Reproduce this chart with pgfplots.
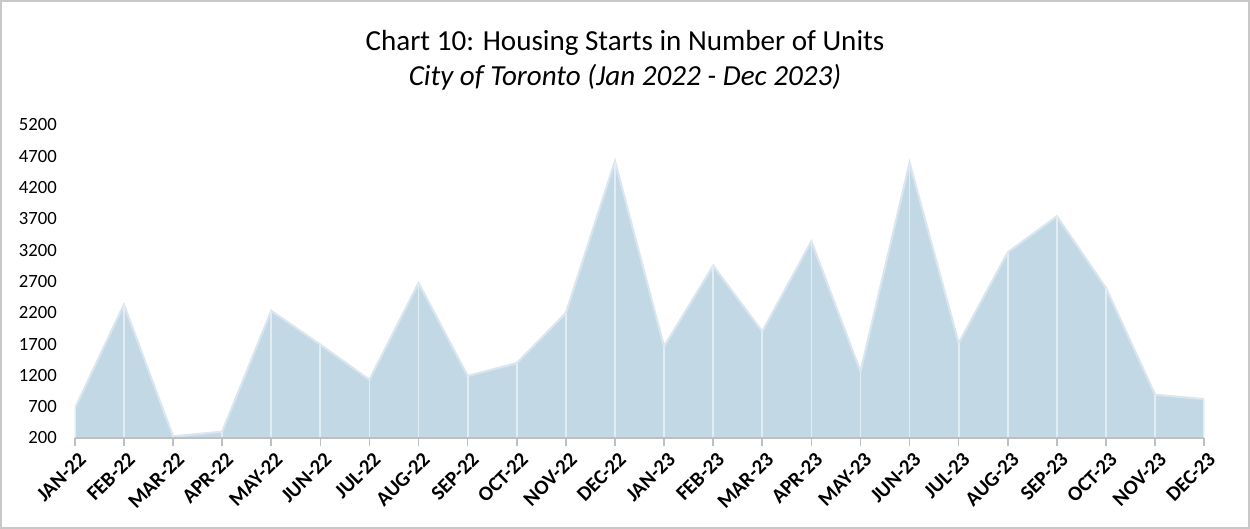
\documentclass[border=0pt]{standalone}
\usepackage{pgfplots}
\pgfplotsset{compat=1.18}
\usepackage{fontspec}
\setmainfont{Carlito}
\definecolor{areablue}{HTML}{C3D8E5}
\definecolor{edgeblue}{HTML}{DAE6EF}
\definecolor{dropline}{HTML}{E2ECF3}
\definecolor{framegray}{HTML}{C8C8C8}
\definecolor{axisgray}{HTML}{BFBFBF}
\begin{document}
\begin{tikzpicture}
\draw[framegray, line width=1.2pt] (0.75pt,0.75pt) rectangle (936.75pt,396pt);
\node[font=\fontsize{21.8}{26}\selectfont] at (468.75pt,364.5pt) {Chart 10: Housing Starts in Number of Units};
\node[font=\fontsize{21.8}{26}\selectfont\itshape] at (468.75pt,339pt) {City of Toronto (Jan 2022 - Dec 2023)};
\begin{axis}[
  at={(56.25pt,68.25pt)}, anchor=south west,
  scale only axis, width=846.75pt, height=234.75pt,
  xmin=0, xmax=23, ymin=200, ymax=5200,
  ytick={200,700,...,5200},
  xtick={0,...,23},
  xticklabels={JAN-22,FEB-22,MAR-22,APR-22,MAY-22,JUN-22,JUL-22,AUG-22,SEP-22,OCT-22,NOV-22,DEC-22,JAN-23,FEB-23,MAR-23,APR-23,MAY-23,JUN-23,JUL-23,AUG-23,SEP-23,OCT-23,NOV-23,DEC-23},
  x tick label style={rotate=45, anchor=north east, font=\fontsize{15.5}{18}\selectfont\bfseries, inner sep=1pt, yshift=-3pt},
  y tick label style={font=\fontsize{14}{16}\selectfont, xshift=-4pt},
  /pgf/number format/assume math mode=true,
  scaled y ticks=false,
  yticklabel style={/pgf/number format/.cd, 1000 sep={}},
  axis x line*=bottom, axis y line*=left,
  x axis line style={axisgray, line width=1.2pt, -},
  y axis line style={draw=none},
  tick align=outside,
  xtick style={axisgray, line width=1.2pt},
  major tick length=6pt,
  ytick style={draw=none},
  clip=true,
  axis on top,
]
\addplot[fill=areablue, draw=edgeblue, line width=1.6pt] coordinates {
(0,670) (1,2330) (2,225) (3,300) (4,2230) (5,1690) (6,1130) (7,2675) (8,1190) (9,1395) (10,2195) (11,4620) (12,1660) (13,2950) (14,1900) (15,3340) (16,1260) (17,4595) (18,1715) (19,3165) (20,3740) (21,2595) (22,890) (23,820)
} \closedcycle;
\addplot[ycomb, draw=dropline, line width=1.3pt, mark=none] coordinates {
(0,670) (1,2330) (2,225) (3,300) (4,2230) (5,1690) (6,1130) (7,2675) (8,1190) (9,1395) (10,2195) (11,4620) (12,1660) (13,2950) (14,1900) (15,3340) (16,1260) (17,4595) (18,1715) (19,3165) (20,3740) (21,2595) (22,890) (23,820)
};
\end{axis}
\end{tikzpicture}
\end{document}
